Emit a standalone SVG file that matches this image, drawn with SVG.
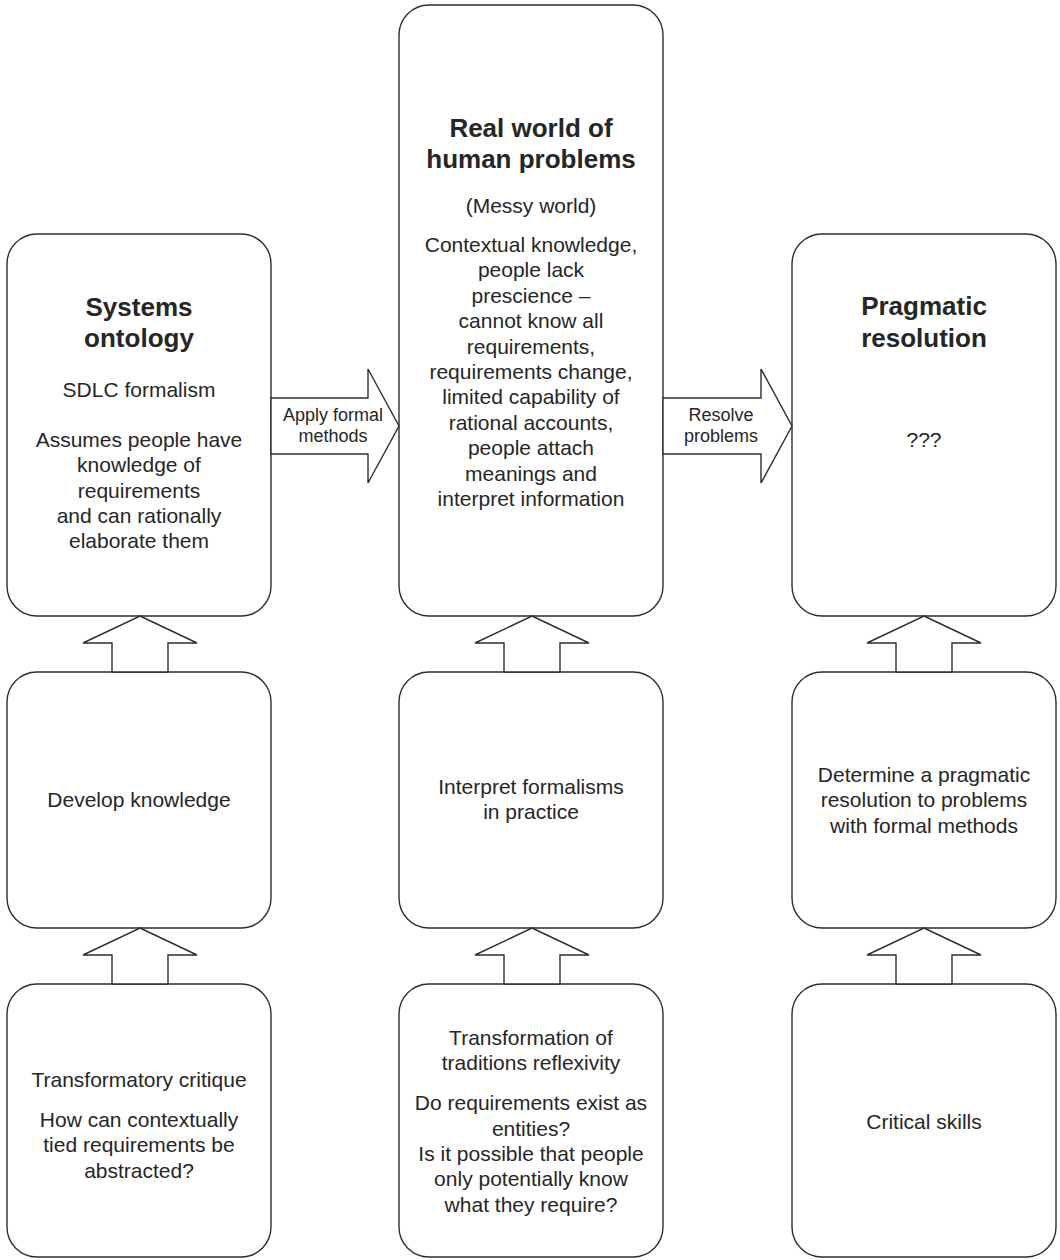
<svg xmlns="http://www.w3.org/2000/svg" width="1060" height="1260" viewBox="0 0 1060 1260">
  <style>
    .box { fill: #ffffff; stroke: #2e2e2e; stroke-width: 1.4; }
    .arrow { fill: #ffffff; stroke: #2e2e2e; stroke-width: 1.4; stroke-linejoin: miter; }
    text { font-family: "Liberation Sans", Arial, Helvetica, sans-serif; fill: #262626; text-anchor: middle; }
    .title { font-size: 26px; font-weight: bold; }
    .body { font-size: 21px; }
    .label { font-size: 18px; }
  </style>
  <rect width="1060" height="1260" fill="#ffffff"/>

  <!-- top row -->
  <g id="systems-ontology">
    <rect class="box" x="7" y="234" width="264" height="382" rx="30" ry="30"/>
    <text class="title" x="139" y="316">Systems</text>
    <text class="title" x="139" y="347">ontology</text>
    <text class="body" x="139" y="397">SDLC formalism</text>
    <text class="body" x="139" y="447">Assumes people have</text>
    <text class="body" x="139" y="472.3">knowledge of</text>
    <text class="body" x="139" y="497.6">requirements</text>
    <text class="body" x="139" y="522.9">and can rationally</text>
    <text class="body" x="139" y="548.2">elaborate them</text>
  </g>

  <g id="real-world">
    <rect class="box" x="399" y="5" width="264" height="611" rx="30" ry="30"/>
    <text class="title" x="531" y="137">Real world of</text>
    <text class="title" x="531" y="168">human problems</text>
    <text class="body" x="531" y="213">(Messy world)</text>
    <text class="body" x="531" y="252">Contextual knowledge,</text>
    <text class="body" x="531" y="277.4">people lack</text>
    <text class="body" x="531" y="302.8">prescience –</text>
    <text class="body" x="531" y="328.2">cannot know all</text>
    <text class="body" x="531" y="353.6">requirements,</text>
    <text class="body" x="531" y="379">requirements change,</text>
    <text class="body" x="531" y="404.4">limited capability of</text>
    <text class="body" x="531" y="429.8">rational accounts,</text>
    <text class="body" x="531" y="455.2">people attach</text>
    <text class="body" x="531" y="480.6">meanings and</text>
    <text class="body" x="531" y="506">interpret information</text>
  </g>

  <g id="pragmatic-resolution">
    <rect class="box" x="792" y="234" width="264" height="382" rx="30" ry="30"/>
    <text class="title" x="924" y="315">Pragmatic</text>
    <text class="title" x="924" y="347">resolution</text>
    <text class="body" x="924" y="447">???</text>
  </g>

  <!-- middle row -->
  <g id="develop-knowledge">
    <rect class="box" x="7" y="672" width="264" height="256" rx="30" ry="30"/>
    <text class="body" x="139" y="807">Develop knowledge</text>
  </g>

  <g id="interpret-formalisms">
    <rect class="box" x="399" y="672" width="264" height="256" rx="30" ry="30"/>
    <text class="body" x="531" y="794">Interpret formalisms</text>
    <text class="body" x="531" y="819.3">in practice</text>
  </g>

  <g id="determine-resolution">
    <rect class="box" x="792" y="672" width="264" height="256" rx="30" ry="30"/>
    <text class="body" x="924" y="782">Determine a pragmatic</text>
    <text class="body" x="924" y="807.3">resolution to problems</text>
    <text class="body" x="924" y="832.6">with formal methods</text>
  </g>

  <!-- bottom row -->
  <g id="transformatory-critique">
    <rect class="box" x="7" y="984" width="264" height="273" rx="30" ry="30"/>
    <text class="body" x="139" y="1087">Transformatory critique</text>
    <text class="body" x="139" y="1127">How can contextually</text>
    <text class="body" x="139" y="1152.3">tied requirements be</text>
    <text class="body" x="139" y="1177.6">abstracted?</text>
  </g>

  <g id="transformation-of-traditions">
    <rect class="box" x="399" y="984" width="264" height="273" rx="30" ry="30"/>
    <text class="body" x="531" y="1045">Transformation of</text>
    <text class="body" x="531" y="1070.3">traditions reflexivity</text>
    <text class="body" x="531" y="1110.3">Do requirements exist as</text>
    <text class="body" x="531" y="1135.6">entities?</text>
    <text class="body" x="531" y="1160.9">Is it possible that people</text>
    <text class="body" x="531" y="1186.2">only potentially know</text>
    <text class="body" x="531" y="1211.5">what they require?</text>
  </g>

  <g id="critical-skills">
    <rect class="box" x="792" y="984" width="264" height="273" rx="30" ry="30"/>
    <text class="body" x="924" y="1129">Critical skills</text>
  </g>

  <!-- block arrows -->
  <g id="connectors">
    <polygon class="arrow" points="271,398 368,398 368,369 399,426 368,483 368,454 271,454"/>
    <text class="label" x="333" y="421">Apply formal</text>
    <text class="label" x="333" y="442">methods</text>

    <polygon class="arrow" points="663,398 761,398 761,369 792,426 761,483 761,454 663,454"/>
    <text class="label" x="721" y="421">Resolve</text>
    <text class="label" x="721" y="442">problems</text>

    <polygon class="arrow" points="140,616 197,643 168,643 168,672 112,672 112,643 83,643"/>
    <polygon class="arrow" points="532,616 589,643 560,643 560,672 504,672 504,643 475,643"/>
    <polygon class="arrow" points="924,616 981,643 952,643 952,672 896,672 896,643 867,643"/>

    <polygon class="arrow" points="140,928 197,955 168,955 168,984 112,984 112,955 83,955"/>
    <polygon class="arrow" points="532,928 589,955 560,955 560,984 504,984 504,955 475,955"/>
    <polygon class="arrow" points="924,928 981,955 952,955 952,984 896,984 896,955 867,955"/>
  </g>
</svg>
